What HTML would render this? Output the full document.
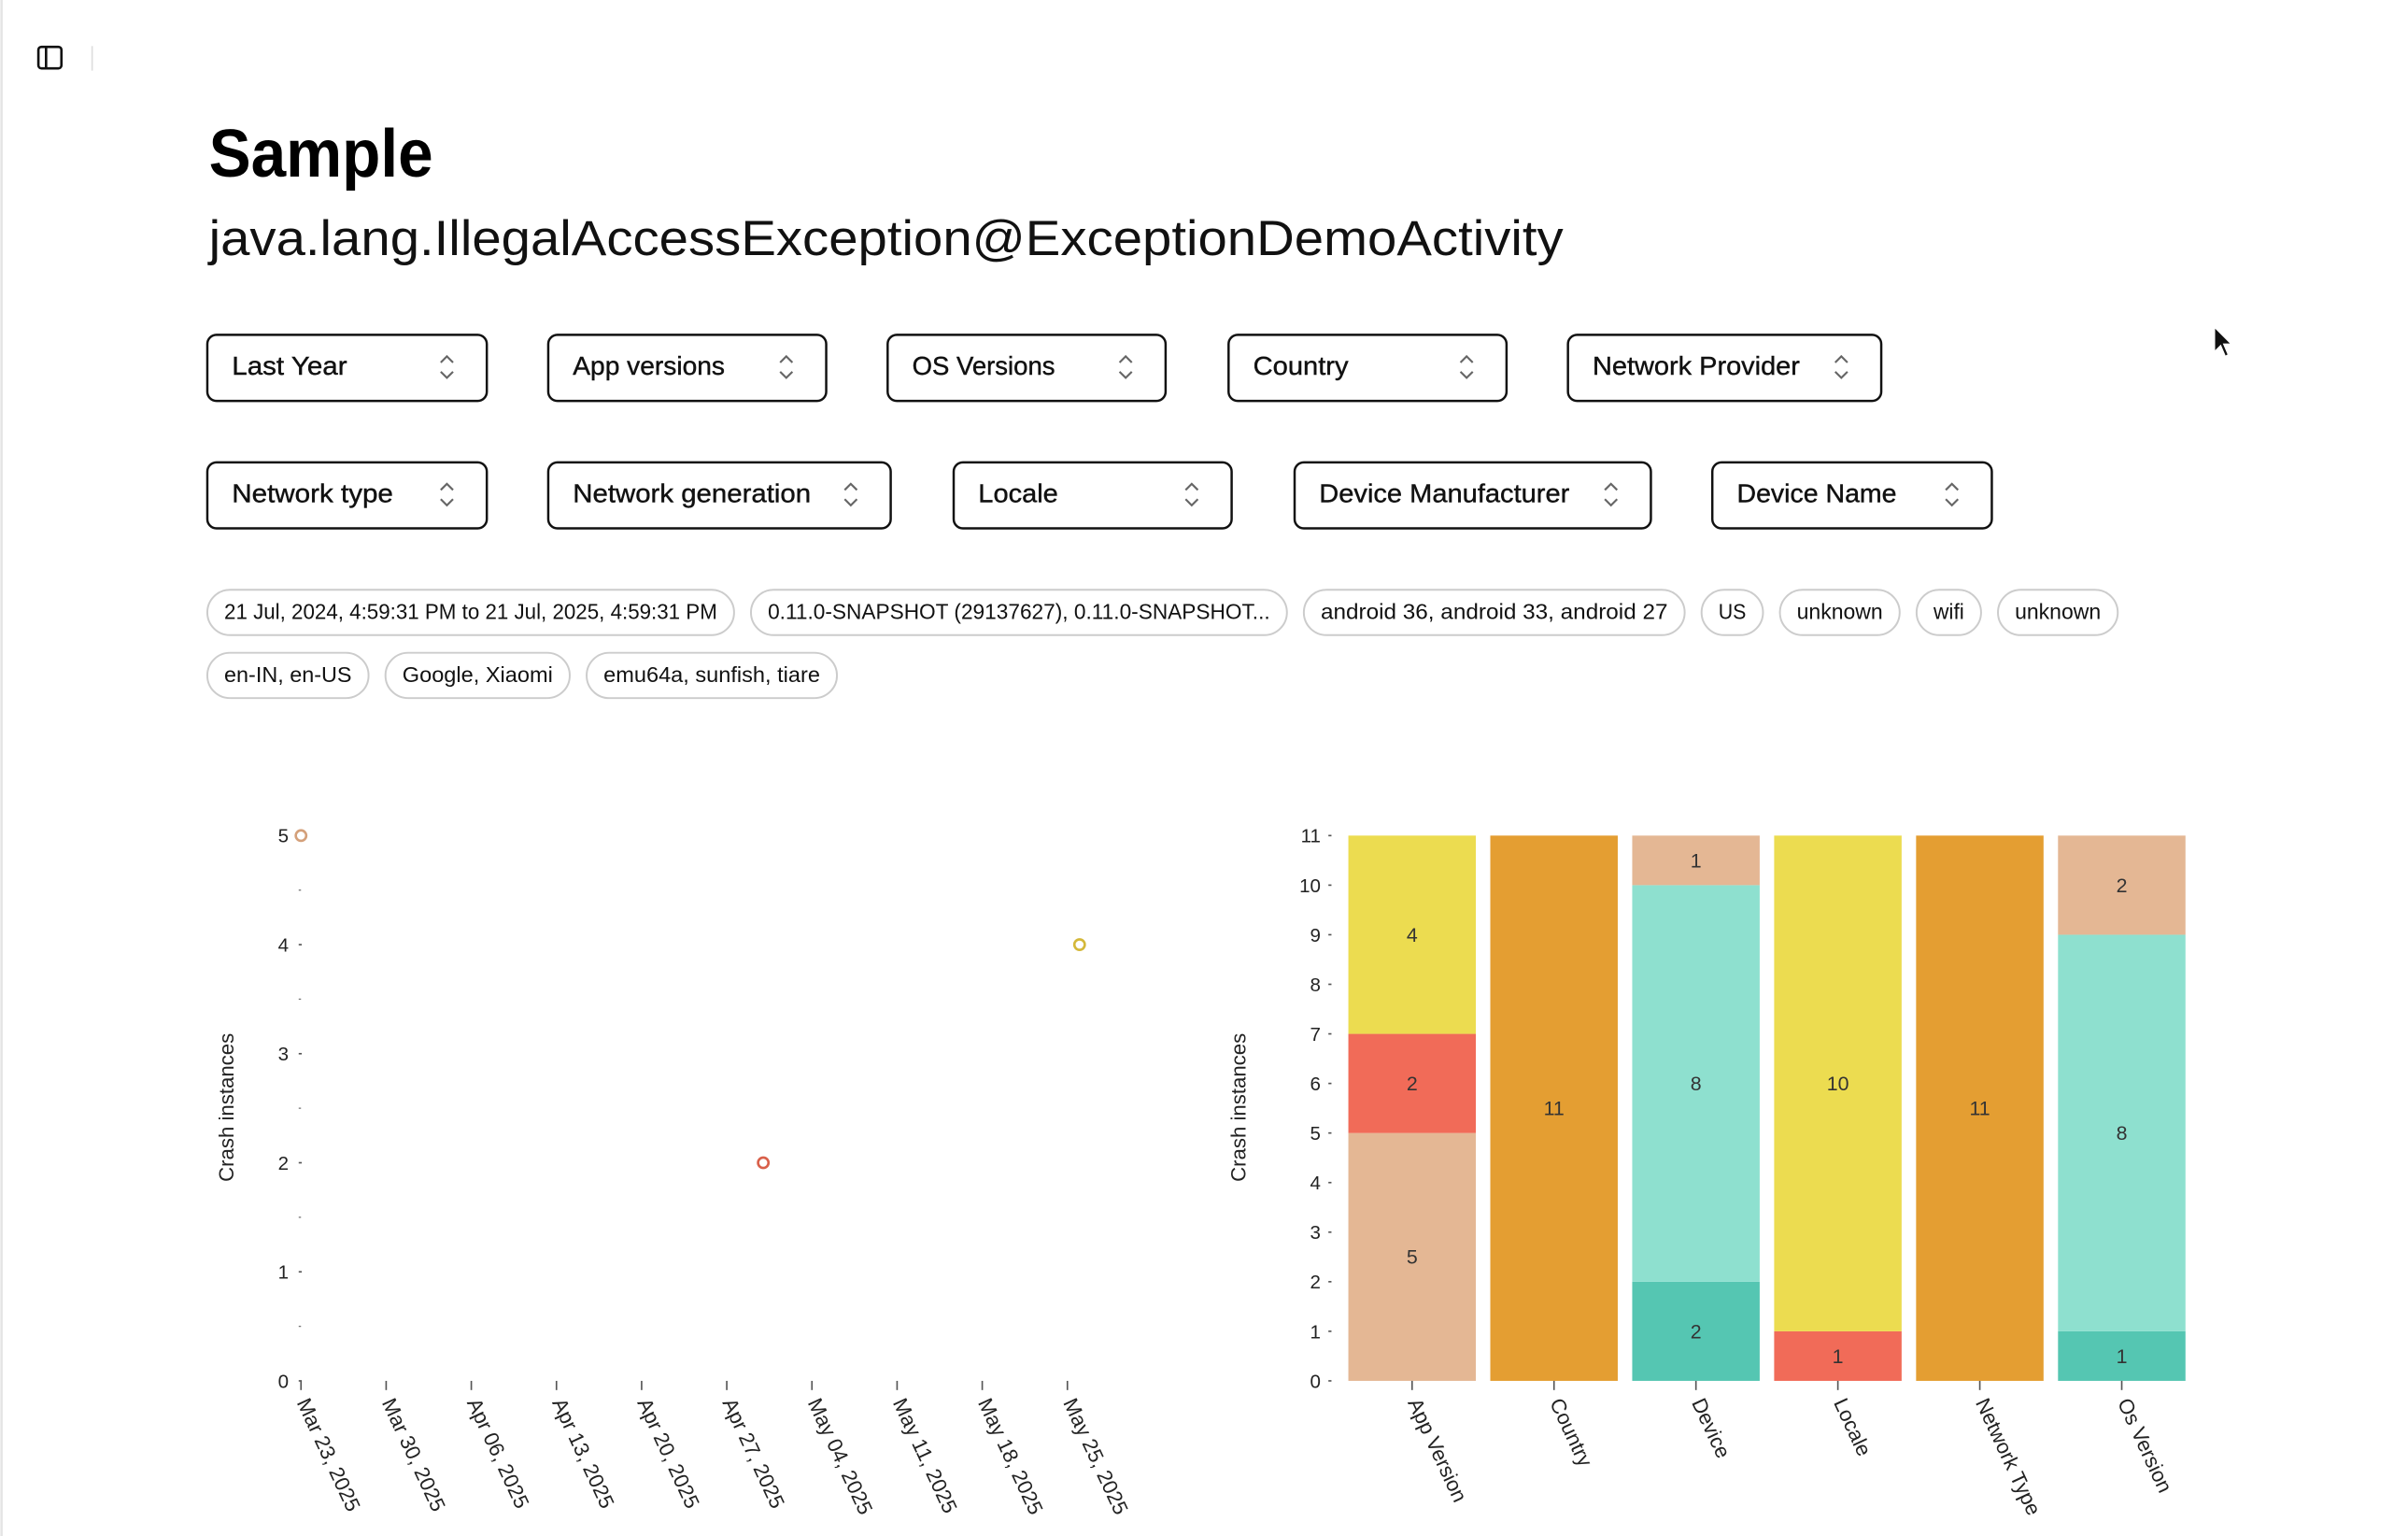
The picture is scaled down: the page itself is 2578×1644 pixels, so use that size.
<!DOCTYPE html>
<html><head><meta charset="utf-8"><style>
html,body{margin:0;padding:0;background:#fff;width:2578px;height:1644px;overflow:hidden}
svg{display:block}
text{font-family:"Liberation Sans","DejaVu Sans",sans-serif}
</style></head><body>
<svg id="page" width="2578" height="1644" viewBox="0 0 1568 1000" preserveAspectRatio="none" xmlns="http://www.w3.org/2000/svg">
<rect x="0" y="0" width="1568" height="1000" fill="#fff"/>
<line x1="1" y1="0" x2="1" y2="1000" stroke="#e4e4e4" stroke-width="1.5"/>
<g>
<rect x="25" y="30.5" width="15" height="14" rx="2" fill="none" stroke="#111" stroke-width="1.6"/>
<line x1="30" y1="30.5" x2="30" y2="44.5" stroke="#111" stroke-width="1.6"/>
</g>
<line x1="60" y1="30" x2="60" y2="46" stroke="#ddd" stroke-width="1"/>
<text x="136" y="115" font-size="44" font-weight="600" textLength="146" lengthAdjust="spacingAndGlyphs">Sample</text>
<text x="136" y="166" font-size="32" fill="#111" textLength="882" lengthAdjust="spacingAndGlyphs">java.lang.IllegalAccessException@ExceptionDemoActivity</text>
<g id="filters"></g>
<g id="chips"></g>
<path d="M1442 213 L1442 229 L1446 225 L1449 232 L1451 231 L1448 224 L1453 224 Z" fill="#111" stroke="#fff" stroke-width="0.8"/>
<g id="line-chart"></g>
<g id="bar-chart"></g>
</svg>
<script>
const NS="http://www.w3.org/2000/svg";
function mk(parent,tag,attrs,txt){const e=document.createElementNS(NS,tag);for(const k in attrs)e.setAttribute(k,attrs[k]);if(txt!==undefined)e.textContent=txt;parent.appendChild(e);return e;}

// Filters
const filterLabels=["Last Year","App versions","OS Versions","Country","Network Provider","Network type","Network generation","Locale","Device Manufacturer","Device Name"];
const filterBoxes=[[135,317,218],[357,538,218],[578,759,218],[800,981,218],[1021,1225,218],[135,317,301],[357,580,301],[621,802,301],[843,1075,301],[1115,1297,301]];
const filterTextW=[75,99,93,62,135,105,155,52,163,104];
const fg=document.getElementById('filters');
filterLabels.forEach((l,i)=>{
  const [x1,x2,y]=filterBoxes[i];
  const g=mk(fg,'g',{});
  
  
  mk(g,'rect',{x:x1,y:y,width:x2-x1,height:43,rx:6,fill:'#fff',stroke:'#111','stroke-width':1.5});
  mk(g,'text',{x:x1+16,y:y+26,'font-size':17,fill:'#111',stroke:'#111','stroke-width':0.25,textLength:filterTextW[i],lengthAdjust:'spacingAndGlyphs'},l);
  const cx=x2-26,cy=y+21;
  mk(g,'path',{d:`M${cx-4} ${cy-3} L${cx} ${cy-7} L${cx+4} ${cy-3} M${cx-4} ${cy+3} L${cx} ${cy+7} L${cx+4} ${cy+3}`,fill:'none',stroke:'#666','stroke-width':1.3});
});

// Chips
const chipLabels=["21 Jul, 2024, 4:59:31 PM to 21 Jul, 2025, 4:59:31 PM","0.11.0-SNAPSHOT (29137627), 0.11.0-SNAPSHOT...","android 36, android 33, android 27","US","unknown","wifi","unknown","en-IN, en-US","Google, Xiaomi","emu64a, sunfish, tiare"];
const chipBoxes=[[135,478,384],[489,838,384],[849,1097,384],[1108,1148,384],[1159,1237,384],[1248,1290,384],[1301,1379,384],[135,240,425],[251,371,425],[382,545,425]];
const cg=document.getElementById('chips');
chipLabels.forEach((l,i)=>{
  const [x1,x2,y]=chipBoxes[i];
  const g=mk(cg,'g',{});
  
  
  mk(g,'rect',{x:x1,y:y,width:x2-x1,height:29.5,rx:14.75,fill:'#fff',stroke:'#ccc','stroke-width':1.2});
  mk(g,'text',{x:x1+11,y:y+19,'font-size':14,fill:'#111',textLength:x2-x1-22,lengthAdjust:'spacingAndGlyphs'},l);
});

// ===== Line/scatter chart data =====
const lineXTicks=["Mar 23, 2025","Mar 30, 2025","Apr 06, 2025","Apr 13, 2025","Apr 20, 2025","Apr 27, 2025","May 04, 2025","May 11, 2025","May 18, 2025","May 25, 2025"];
const lineYTicks=[0,1,2,3,4,5];
const pointDays=[0,38,64]; // days since Mar 23, 2025
const pointValues=[5,2,4];
const pointColors=["#d4a07a","#d9604a","#d4b83a"];

// ===== Bar chart data =====
const barCategories=["App Version","Country","Device","Locale","Network Type","Os Version"];
const barStacks=[[5,2,4],[11],[2,8,1],[1,10],[11],[1,8,2]];
const barStackColors=[["#e4b794","#f16b58","#ecdc50"],["#e49e32"],["#55c6b2","#8ee0cf","#e4b794"],["#f16b58","#ecdc50"],["#e49e32"],["#55c6b2","#8ee0cf","#e4b794"]];
const barYTicks=[0,1,2,3,4,5,6,7,8,9,10,11];

// Line chart axes
(function(){
  const g=document.getElementById('line-chart');
  const y0=899,y1=544,vmax=5,xLeft=196,weekPx=55.45;
  const ys=v=>y0-(y0-y1)*v/vmax;
  const xs=d=>xLeft+weekPx*d/7;
  lineYTicks.forEach(v=>{
    const t=mk(g,'text',{x:188,y:ys(v)+4.5,'font-size':12.5,'text-anchor':'end',fill:'#222'},String(v));
    
    
    mk(g,'line',{x1:194.5,x2:196.5,y1:ys(v),y2:ys(v),stroke:'#555','stroke-width':1});
    if(v<vmax) mk(g,'line',{x1:194.5,x2:196,y1:ys(v+0.5),y2:ys(v+0.5),stroke:'#777','stroke-width':0.8});
  });
  lineXTicks.forEach((l,i)=>{
    const x=xs(i*7);
    mk(g,'line',{x1:x,x2:x,y1:899,y2:905,stroke:'#555','stroke-width':1});
    const t=mk(g,'text',{x:0,y:0,'font-size':13.5,fill:'#222',transform:`translate(${x-3},${913}) rotate(65)`},l);
    
    
  });
  const tt=mk(g,'text',{x:0,y:0,'font-size':13.5,fill:'#222','text-anchor':'middle',transform:'translate(152,721) rotate(-90)'},'Crash instances');
  
  
  pointDays.forEach((d,i)=>{
    const c=mk(g,'circle',{cx:xs(d),cy:ys(pointValues[i]),r:3.4,fill:'#fff',stroke:pointColors[i],'stroke-width':1.6});
    
    
  });
})();

// Bar chart
(function(){
  const g=document.getElementById('bar-chart');
  const y0=899,y1=544,vmax=11,x0=874,step=92.42,bw=83;
  const ys=v=>y0-(y0-y1)*v/vmax;
  barYTicks.forEach(v=>{
    const t=mk(g,'text',{x:860,y:ys(v)+4.5,'font-size':12.5,'text-anchor':'end',fill:'#222'},String(v));
    
    
    mk(g,'line',{x1:865,x2:867,y1:ys(v),y2:ys(v),stroke:'#555','stroke-width':1});
  });
  barCategories.forEach((c,i)=>{
    const bx=x0+4+i*step;
    let acc=0;
    barStacks[i].forEach((v,j)=>{
      const r=mk(g,'rect',{x:bx,y:ys(acc+v),width:bw,height:ys(acc)-ys(acc+v),fill:barStackColors[i][j]});
      
      
      const t=mk(g,'text',{x:bx+bw/2,y:(ys(acc)+ys(acc+v))/2+4.5,'font-size':13,'text-anchor':'middle',fill:'#333'},String(v));
      
      
      acc+=v;
    });
    const cx=bx+bw/2;
    mk(g,'line',{x1:cx,x2:cx,y1:899,y2:905,stroke:'#555','stroke-width':1});
    const t=mk(g,'text',{x:0,y:0,'font-size':13.5,fill:'#222',transform:`translate(${cx-3},${913}) rotate(65)`},c);
    
    
  });
  const tt=mk(g,'text',{x:0,y:0,'font-size':13.5,fill:'#222','text-anchor':'middle',transform:'translate(811,721) rotate(-90)'},'Crash instances');
  
  
})();
</script>
</body></html>
